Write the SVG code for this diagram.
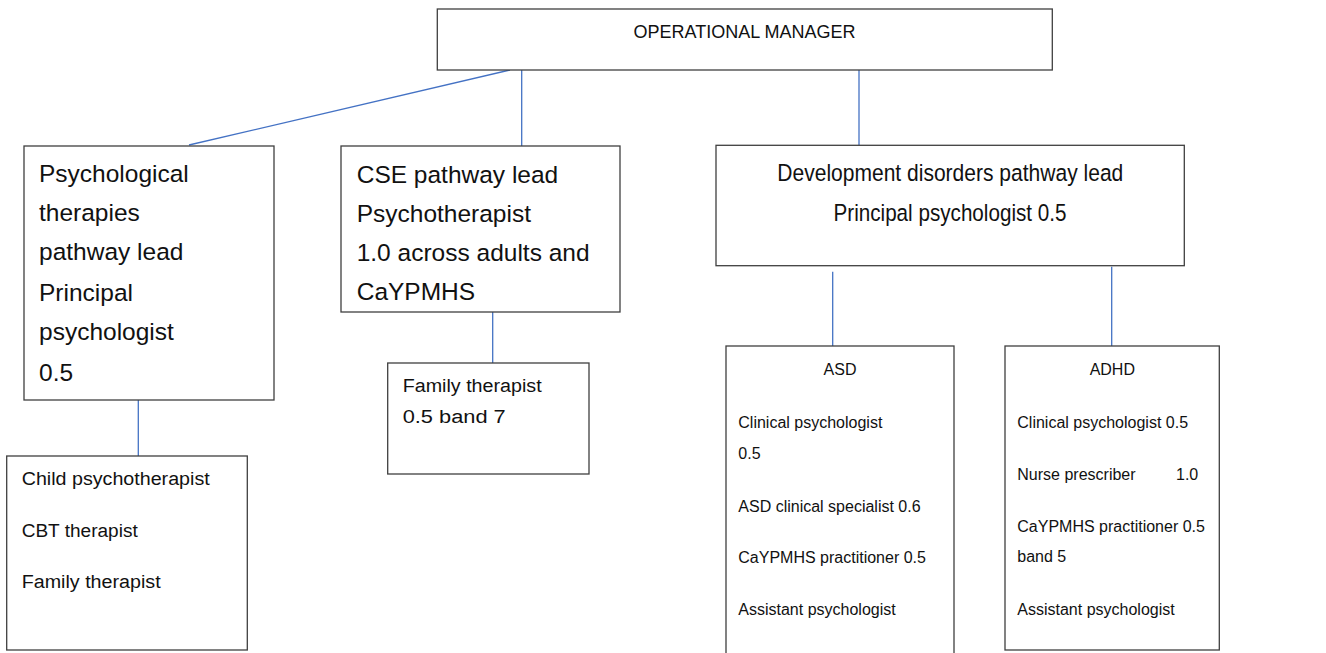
<svg xmlns="http://www.w3.org/2000/svg" width="1326" height="653" viewBox="0 0 1326 653">
<style>
.box{fill:#fff;stroke:#3f3f3f;stroke-width:1.3}
.con line{stroke:#4472c4;stroke-width:1.3}
text{font-family:"Liberation Sans",Arial,sans-serif;fill:#111}
.big{font-size:24.5px}
.sm{font-size:16px}
.md{font-size:18px}
</style>
<rect width="1326" height="653" fill="#fff"/>
<g class="con">
<line x1="510" y1="70" x2="189" y2="145"/>
<line x1="521.7" y1="70" x2="521.7" y2="146"/>
<line x1="859" y1="70" x2="859" y2="145"/>
<line x1="138.3" y1="400" x2="138.3" y2="456"/>
<line x1="492.7" y1="312" x2="492.7" y2="363"/>
<line x1="832.7" y1="271.7" x2="832.7" y2="346"/>
<line x1="1111.7" y1="266.7" x2="1111.7" y2="346"/>
</g>
<g id="operational-manager">
<rect class="box" x="437.3" y="9" width="615" height="61"/>
<text x="744.5" y="38" font-size="18" text-anchor="middle">OPERATIONAL MANAGER</text>
</g>
<g id="psych-lead">
<rect class="box" x="24" y="146" width="250" height="254"/>
<text class="big" x="39"><tspan x="39" y="181.5">Psychological</tspan><tspan x="39" y="220.5">therapies</tspan><tspan x="39" y="260">pathway lead</tspan><tspan x="39" y="301">Principal</tspan><tspan x="39" y="340">psychologist</tspan><tspan x="39" y="380.5">0.5</tspan></text>
</g>
<g id="cse-lead">
<rect class="box" x="341" y="146" width="279" height="166"/>
<text class="big" x="356.7"><tspan x="356.7" y="183">CSE pathway lead</tspan><tspan x="356.7" y="222">Psychotherapist</tspan><tspan x="356.7" y="260.5">1.0 across adults and</tspan><tspan x="356.7" y="300">CaYPMHS</tspan></text>
</g>
<g id="dev-lead">
<rect class="box" x="716" y="145.3" width="468.3" height="120.4"/>
<text font-size="24.5" x="950.3" y="181" text-anchor="middle" textLength="346" lengthAdjust="spacingAndGlyphs">Development disorders pathway lead</text>
<text font-size="24.5" x="950" y="220.7" text-anchor="middle" textLength="233" lengthAdjust="spacingAndGlyphs">Principal psychologist 0.5</text>
</g>
<g id="psych-team">
<rect class="box" x="6.7" y="456" width="240.6" height="194"/>
<text class="md" x="21.7" y="485" textLength="188" lengthAdjust="spacingAndGlyphs">Child psychotherapist</text>
<text class="md" x="21.7" y="536.7" textLength="116" lengthAdjust="spacingAndGlyphs">CBT therapist</text>
<text class="md" x="21.7" y="588.3" textLength="139" lengthAdjust="spacingAndGlyphs">Family therapist</text>
</g>
<g id="cse-team">
<rect class="box" x="387.7" y="363" width="201.3" height="111"/>
<text class="md" x="402.7" y="391.7" textLength="139" lengthAdjust="spacingAndGlyphs">Family therapist</text>
<text class="md" x="402.7" y="423" textLength="103" lengthAdjust="spacingAndGlyphs">0.5 band 7</text>
</g>
<g id="asd">
<rect class="box" x="726" y="346" width="228" height="320"/>
<text class="sm" x="840" y="375" text-anchor="middle">ASD</text>
<text class="sm" x="738.3"><tspan x="738.3" y="427.7">Clinical psychologist</tspan><tspan x="738.3" y="459.3">0.5</tspan><tspan x="738.3" y="511.7">ASD clinical specialist 0.6</tspan><tspan x="738.3" y="562.7">CaYPMHS practitioner 0.5</tspan><tspan x="738.3" y="615">Assistant psychologist</tspan></text>
</g>
<g id="adhd">
<rect class="box" x="1005" y="346" width="214.3" height="304"/>
<text class="sm" x="1112.3" y="375" text-anchor="middle">ADHD</text>
<text class="sm" x="1017.3"><tspan x="1017.3" y="427.7">Clinical psychologist 0.5</tspan><tspan x="1017.3" y="480">Nurse prescriber</tspan><tspan x="1176" y="480">1.0</tspan><tspan x="1017.3" y="531.7">CaYPMHS practitioner 0.5</tspan><tspan x="1017.3" y="561.7">band 5</tspan><tspan x="1017.3" y="615">Assistant psychologist</tspan></text>
</g>
</svg>
